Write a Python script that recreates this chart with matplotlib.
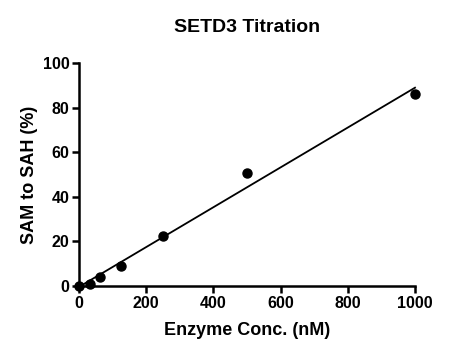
import matplotlib
matplotlib.use("Agg")
import matplotlib.pyplot as plt
import numpy as np

plt.rcParams['font.family'] = ['Liberation Sans', 'DejaVu Sans']
plt.rcParams['font.weight'] = 'bold'

conc = [0, 31.25, 62.5, 125, 250, 500, 1000]
sam_to_sah = [0, 1.0, 4.0, 9.0, 22.5, 50.5, 86.0]
xticks = [0, 200, 400, 600, 800, 1000]
yticks = [0, 20, 40, 60, 80, 100]

fig = plt.figure(figsize=(4.67, 3.56), dpi=100)
ax = fig.add_axes([79/467, 1-286/356, (415-79)/467, (286-63)/356])

slope, intercept = np.polyfit(conc, sam_to_sah, 1)
xl = np.array([0, 1000])
ax.plot(xl, slope*xl + intercept, color='black', lw=1.3, clip_on=False)
ax.plot(conc, sam_to_sah, 'o', color='black', ms=6.5, clip_on=False)

ax.set_xlim(0, 1000)
ax.set_ylim(0, 100)
ax.set_xticks(xticks)
ax.set_yticks(yticks)
for s in ['top', 'right']:
    ax.spines[s].set_visible(False)
for s in ['left', 'bottom']:
    ax.spines[s].set_linewidth(1.8)
ax.tick_params(direction='out', width=1.8, length=5, labelsize=11.5, pad=2)
for lab in ax.get_xticklabels() + ax.get_yticklabels():
    lab.set_fontweight('bold')
ax.set_xlabel('Enzyme Conc. (nM)', fontsize=13, fontweight='bold', labelpad=8)
ax.set_ylabel('SAM to SAH (%)', fontsize=13, fontweight='bold', labelpad=3)
fig.text(247/467, 1-28/356, 'SETD3 Titration', ha='center', va='center', fontsize=14, fontweight='bold')

fig.savefig('out.png', dpi=100)
